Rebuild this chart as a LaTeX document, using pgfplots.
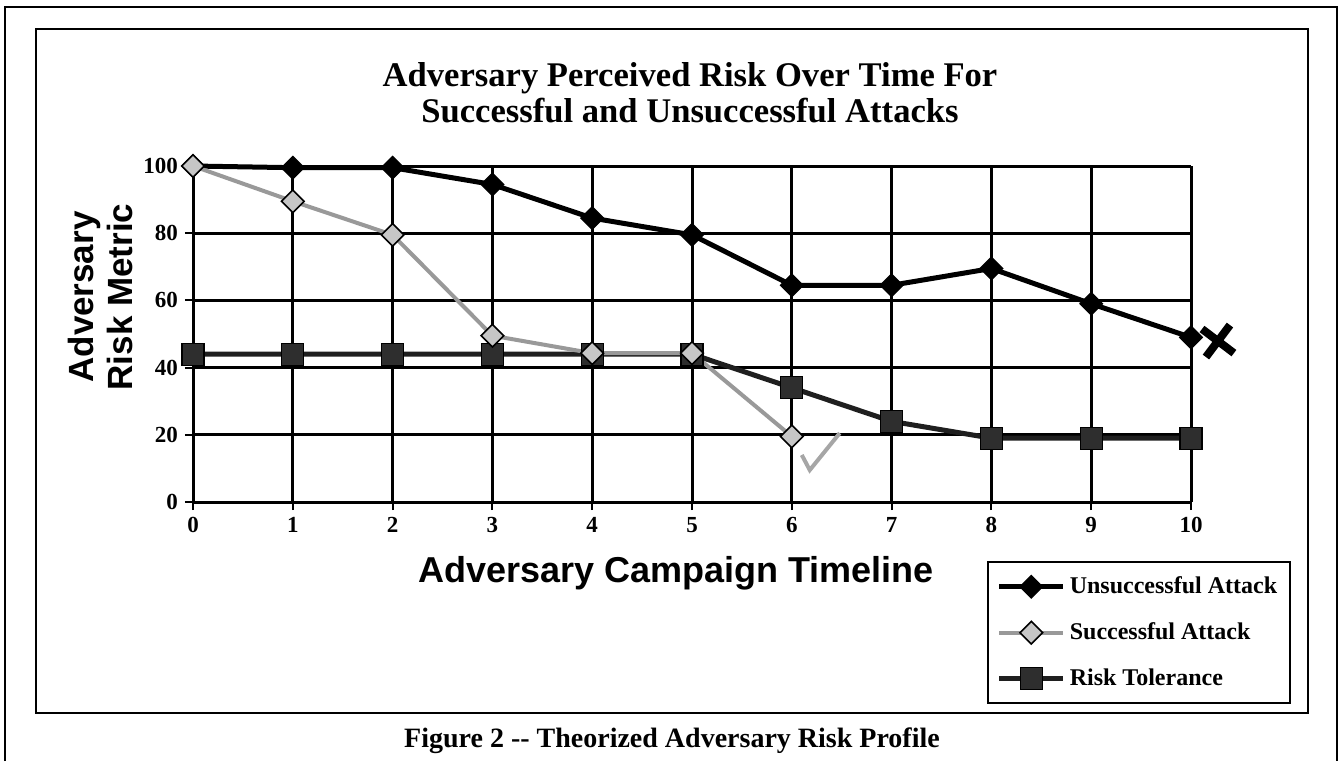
\documentclass[border=0pt]{standalone}
\usepackage{pgfplots}
\pgfplotsset{compat=1.18}
\usepackage{fontspec}
\setmainfont{Liberation Serif}
\newfontfamily\sansbf{Liberation Sans}
\pgfplotsset{
 unsucc/.style={draw=black, line width=2.5pt, mark=square*, mark size=4pt, mark options={rotate=45, fill=black, draw=black, line width=0.6pt}},
 succ/.style={draw=gray!80, line width=2pt, mark=square*, mark size=4pt, mark options={rotate=45, fill=gray!45, draw=black, line width=0.8pt}},
 risk/.style={draw=black!88, line width=2.5pt, mark=square*, mark size=5.5pt, mark options={fill=black!82, draw=black, line width=0.6pt}},
}
\begin{document}
\begin{tikzpicture}
\path[use as bounding box] (0,0) rectangle (671.5pt,380.5pt);
\draw[line width=1pt] (2.5pt,0pt) -- (2.5pt,377pt) -- (668.5pt,377pt) -- (668.5pt,0pt);
\draw[line width=1pt] (18pt,24pt) rectangle (654pt,366pt);
\begin{axis}[
 at={(96.5pt,129.5pt)}, anchor=south west,
 width=499pt, height=168pt, scale only axis,
 xmin=0, xmax=10, ymin=0, ymax=100,
 xtick={0,...,10}, ytick={0,20,...,100},
 axis lines=left, axis line style={-, line width=1.5pt},
 grid=major, major grid style={black, line width=1.5pt},
 tick align=outside, major tick length=4pt, tick style={black, line width=1pt},
 clip=false,
 ticklabel style={font=\bfseries\fontsize{11.5}{11.5}\selectfont},
 /pgf/number format/assume math mode=true,
 title={Adversary Perceived Risk Over Time For\\Successful and Unsuccessful Attacks},
 title style={at={(axis description cs:0.498,1.183)}, anchor=center, align=center, font=\bfseries\fontsize{17.3}{18}\selectfont},
 xlabel={Adversary Campaign Timeline},
 xlabel style={at={(axis description cs:0.484,-0.212)}, anchor=center, font=\sansbf\bfseries\fontsize{18}{18}\selectfont},
 ylabel={Adversary\\Risk Metric},
 ylabel style={at={(axis description cs:-0.0927,0.61)}, anchor=center, align=center, font=\sansbf\bfseries\fontsize{17.5}{19.5}\selectfont},
 legend style={at={(axis description cs:0.7956,-0.1756)}, anchor=north west, draw=black, line width=0.8pt, font=\bfseries\fontsize{12}{12}\selectfont, row sep=9pt, inner xsep=4.5pt, inner ysep=5.5pt},
 legend cell align=left,
 legend image code/.code={\draw[mark repeat=2,mark phase=2,#1] plot coordinates {(0pt,0pt) (16pt,0pt) (32pt,0pt)};},
]
\addplot[unsucc] coordinates {(0,100)(1,99.5)(2,99.5)(3,94.5)(4,84.5)(5,79.5)(6,64.5)(7,64.5)(8,69.5)(9,59)(10,49)};
\addlegendentry{Unsuccessful Attack}
\addlegendimage{succ}
\addlegendentry{Successful Attack}
\addplot[risk] coordinates {(0,44)(1,44)(2,44)(3,44)(4,44)(5,44)(6,34)(7,24)(8,19)(9,19)(10,19)};
\addlegendentry{Risk Tolerance}
\addplot[succ, forget plot] coordinates {(0,100)(1,89.5)(2,79.5)(3,49.5)(4,44.3)(5,44.3)(6,19.5)};
\addplot[only marks, mark=x, mark size=10pt, line width=4pt, black, mark options={rotate=8}, forget plot] coordinates {(10.27,47.9)};
\addplot[gray!70, line width=2pt, forget plot] coordinates {(6.10,14)(6.18,9.5)(6.48,20.5)};
\end{axis}
\node[font=\bfseries\fontsize{14}{14}\selectfont] at (336pt,10pt) {Figure 2 -{}- Theorized Adversary Risk Profile};
\end{tikzpicture}
\end{document}
